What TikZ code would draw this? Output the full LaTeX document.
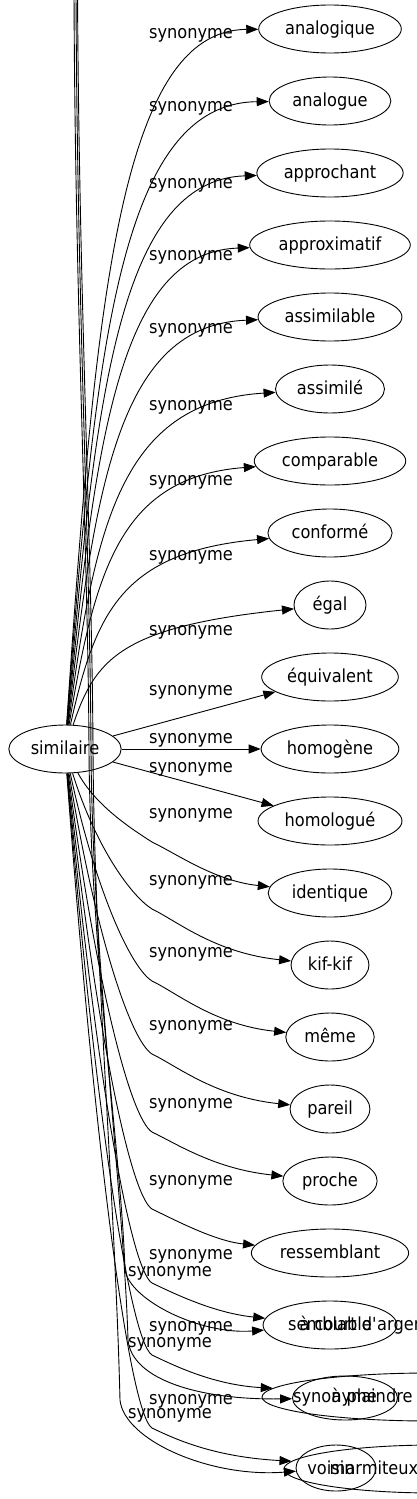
\documentclass[tikz,border=0pt]{standalone}
\usepackage{fontspec}
\setmainfont{DejaVu Sans}[FakeStretch=0.9]
\usetikzlibrary{shapes.geometric,arrows.meta}
\newcommand\wf{\fontsize{18}{21}\selectfont}
\begin{document}
\begin{tikzpicture}[x=1pt,y=-1pt,
  word/.style={ellipse,draw,line width=0.9pt,minimum width=72pt,minimum height=48pt,
    inner xsep=5.5pt,inner ysep=2pt,font=\wf,text height=12pt,text depth=2pt},
  ring/.style={ellipse,draw,line width=0.9pt,inner sep=0pt},
  txt/.style={font=\wf,inner sep=0pt,text height=12pt,text depth=2pt},
  lab/.style={font=\wf,inner sep=0pt,text height=12pt,text depth=2pt},
  syn/.style={line width=0.9pt,-{Triangle[length=12pt,width=9pt]}}]
\useasboundingbox (0,0) rectangle (417,1499);

% source
\node[word] (sim) at (65,749) {similaire};

% targets
\foreach \i/\w in {0/analogique,1/analogue,2/approchant,3/approximatif,4/assimilable,
  5/assimilé,6/comparable,7/conformé,8/égal,9/équivalent,10/homogène,11/homologué,
  12/identique,13/kif-kif,14/même,15/pareil,16/proche,17/ressemblant}
  \node[word] (n\i) at (330,{29+72*\i}) {\w};

% overlapping rows
\node[word] (n18) at (330,1325) {semblable};
\node[txt] (x18) at (365,1325) {à court d\textquotesingle argent};
\node[ring,minimum width=336pt,minimum height=48pt] (n19o) at (430,1397) {};
\node[ring,minimum width=105pt,minimum height=44pt] (n19i) at (345,1398) {};
\node[txt] (t19) at (335,1397) {synonyme};
\node[txt] (x19) at (372,1397) {à plaindre};
\node[ring,minimum width=302pt,minimum height=48pt] (n20o) at (435,1469) {};
\node[ring,minimum width=80pt,minimum height=46pt] (n20i) at (336,1468) {};
\node[txt] (t20) at (331,1469) {voisin};
\node[txt] (x20) at (374,1469) {marmiteux};

% upper edges
\foreach \i/\ly in {0/33,1/106,2/183,3/255,4/328,5/405,6/480,7/555,8/630} {
  \pgfmathsetmacro\yt{29+72*\i}
  \pgfmathsetmacro\ca{749-0.62*(749-\yt)}
  \pgfmathsetmacro\cb{\ly-3}
  \draw[syn] (sim) .. controls (95,\ca) and (120,\cb) .. (n\i);
  \node[lab] (l\i) at (191,\ly) {synonyme};
}
% straight edges
\draw[syn] (sim) -- (n9);
\node[lab] (l9) at (191,690) {synonyme};
\draw[syn] (sim) -- (n10);
\node[lab] (l10) at (191,738) {synonyme};
\draw[syn] (sim) -- (n11);
\node[lab] (l11) at (191,767) {synonyme};

% lower edges
\foreach \i/\ly/\tg in {12/813/n12,13/880/n13,14/952/n14,15/1025/n15,16/1103/n16,
  17/1180/n17,18/1254/n18,19/1326/n19o,20/1399/n20o} {
  \pgfmathsetmacro\my{\ly+29}
  \pgfmathsetmacro\ca{749+0.6*(\my-749)}
  \pgfmathsetmacro\cb{\my-14}
  \pgfmathsetmacro\cc{\my+12}
  \pgfmathsetmacro\yt{29+72*\i}
  \pgfmathsetmacro\cd{\yt-12}
  \draw[syn] (sim) .. controls (95,\ca) and (130,\cb) .. (152,\my)
     .. controls (177,\cc) and (215,\cd) .. (\tg);
  \node[lab] (l\i) at (191,\ly) {synonyme};
}

% long edges coming from above
\coordinate (top1) at (74,-10);
\coordinate (top2) at (76,-10);
\coordinate (top3) at (77.5,-10);
\draw[syn] (top1) .. controls (75,300) and (88,550) .. (89,749)
  .. controls (90,950) and (121,1150) .. (125,1270)
  .. controls (130,1300) and (200,1335) .. (n18);
\draw[syn] (top2) .. controls (77,300) and (90,550) .. (91,749)
  .. controls (92,950) and (124,1200) .. (128,1340)
  .. controls (132,1380) and (200,1400) .. (n19i);
\draw[syn] (top3) .. controls (79,300) and (92,550) .. (93,749)
  .. controls (94,950) and (115,1200) .. (120,1400)
  .. controls (124,1440) and (210,1478) .. (n20i);
\node[lab] (m18) at (170,1271) {synonyme};
\node[lab] (m19) at (170,1342) {synonyme};
\node[lab] (m20) at (170,1413) {synonyme};
\end{tikzpicture}
\end{document}
